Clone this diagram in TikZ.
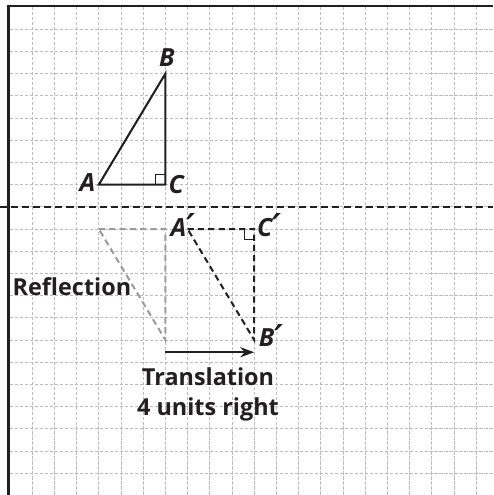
\documentclass[tikz,border=0pt]{standalone}
\usepackage{fontspec}
\setmainfont{Open Sans}
\newfontfamily\primefont{DejaVu Sans}
\usetikzlibrary{arrows.meta}
\definecolor{ink}{HTML}{231F20}
\definecolor{gridgray}{HTML}{BDBDBD}
\definecolor{ghost}{HTML}{9B9B9B}
\newcommand{\prm}{\raisebox{-1.8pt}{\primefont\fontsize{22}{22}\selectfont\bfseries\itshape ′}}
\begin{document}
\begin{tikzpicture}[x=0.5cm,y=0.5cm,
  gridline/.style={gridgray, line width=0.6pt, dash pattern=on 2pt off 1.2pt},
  frame/.style={ink, line width=1.6pt},
  mirror/.style={ink, line width=1.3pt, dash pattern=on 4.5pt off 2.6pt},
  solidtri/.style={ink, line width=1.3pt, line join=miter},
  imagetri/.style={ink, line width=1.3pt, dash pattern=on 4pt off 2.6pt},
  ghosttri/.style={ghost, line width=1.3pt, dash pattern=on 4pt off 2.6pt},
  rightmark/.style={ink, line width=0.6pt},
  vlabel/.style={font=\fontsize{16}{18}\selectfont\bfseries\itshape, text=ink, inner sep=0pt},
  caption/.style={font=\fontsize{15}{19.2}\selectfont\bfseries, text=ink, inner sep=0pt, align=center},
  shiftarrow/.style={ink, line width=1.3pt, -{Stealth[length=9pt,width=6.5pt]}}]
\useasboundingbox (-0.45,0.315) rectangle (21.76,-21.98);
\foreach \i in {1,...,21} \draw[gridline] (\i,0) -- (\i,-21.98);
\foreach \j in {1,...,21} \draw[gridline] (0,-\j) -- (21.76,-\j);
\draw[frame] (-0.06,-21.98) -- (-0.06,0.04) -- (21.76,0.04);
\coordinate (ML) at (-0.45,-9);
\coordinate (MR) at (21.76,-9);
\draw[mirror] (ML) -- (MR);
% original
\coordinate (A) at (4,-8);
\coordinate (B) at (7,-3);
\coordinate (C) at (7,-8);
% reflected (gray)
\coordinate (A2) at (4,-10);
\coordinate (C2) at (7,-10);
\coordinate (B2) at (7,-15);
% translated
\coordinate (A1) at (8,-10);
\coordinate (C1) at (11,-10);
\coordinate (B1) at (11,-15);
\coordinate (T1) at (7,-15.55);
\coordinate (T2) at (11,-15.55);
\draw[ghosttri] (A2) -- (C2) -- (B2) -- cycle;
\draw[solidtri] (A) -- (B) -- (C) -- cycle;
\draw[rightmark] (C) ++(-0.45,0) -- ++(0,0.45) -- ++(0.45,0);
\draw[imagetri] (A1) -- (C1) -- (B1) -- cycle;
\draw[rightmark] (C1) ++(-0.45,0) -- ++(0,-0.45) -- ++(0.45,0);
\draw[shiftarrow] (T1) -- (T2);
\node[vlabel] (lA) at (3.49,-7.92) {A};
\node[vlabel] (lB) at (7.07,-2.29) {B};
\node[vlabel] (lC) at (7.49,-8.01) {C};
\node[vlabel, anchor=base west] (lA1) at (7.22,-10.32) {A\prm};
\node[vlabel, anchor=base west] (lC1) at (11.12,-10.32) {C\prm};
\node[vlabel, anchor=base west] (lB1) at (11.2,-15.3) {B\prm};
\node[caption] (refl) at (2.79,-12.6) {Reflection};
\node[caption] (trans) at (8.92,-17.45) {Translation\\4 units right};
\end{tikzpicture}
\end{document}
